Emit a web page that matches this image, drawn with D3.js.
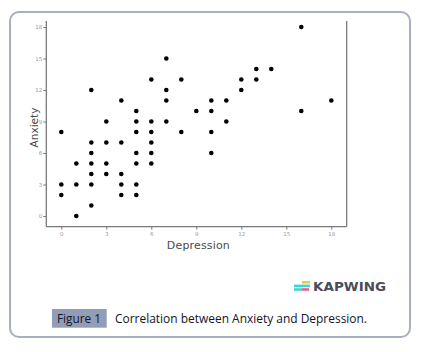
<!DOCTYPE html>
<html>
<head>
<meta charset="utf-8">
<script src="https://cdn.jsdelivr.net/npm/d3@7"></script>
<style>
  body { margin: 0; background: #fff; }
  svg { display: block; }
</style>
</head>
<body>
<div id="chart"></div>
<script>
// Chart Data
const depression = [0, 0, 0, 1, 1, 1, 2, 2, 2, 2, 2, 2, 2, 3, 3, 3, 3, 4, 4, 4, 4, 4,
  5, 5, 5, 5, 5, 5, 5, 6, 6, 6, 6, 6, 6, 7, 7, 7, 7, 8, 8, 9, 10, 10, 10, 10,
  11, 11, 12, 12, 13, 13, 14, 16, 16, 18];
const anxiety = [8, 3, 2, 5, 3, 0, 12, 7, 6, 5, 4, 3, 1, 9, 7, 5, 4, 11, 7, 4, 3, 2,
  10, 9, 8, 6, 5, 3, 2, 13, 9, 8, 7, 6, 5, 15, 12, 11, 9, 13, 8, 10, 11, 10, 8, 6,
  11, 9, 13, 12, 14, 13, 14, 18, 10, 11];
const xTicks = [0, 3, 6, 9, 12, 15, 18];
const yTicks = [0, 3, 6, 9, 12, 15, 18];
const captionLabel = "Figure 1";
const captionText = "Correlation between Anxiety and Depression.";

// Initialise Dimensions
let w = 423, h = 352;
let svg = d3.select("#chart").append("svg").attr("width", w).attr("height", h);

// Card Border
svg.append("rect").attr("x", 10).attr("y", 12).attr("width", 400).attr("height", 325)
  .attr("rx", 9).attr("fill", "#fff").attr("stroke", "#a9afbf").attr("stroke-width", 2);

// Setup Scales & Axes
let xScale = d3.scaleLinear().domain([0, 18]).range([61.3, 331.3]);
let yScale = d3.scaleLinear().domain([0, 18]).range([216, 27]);
let xAxis = d3.axisBottom(xScale).tickValues(xTicks).tickSize(3).tickPadding(2);
let yAxis = d3.axisLeft(yScale).tickValues(yTicks).tickSize(3).tickPadding(1);

let plotLeft = 46.3, plotRight = 346.7, plotTop = 21, plotBottom = 226.7;

// Draw Axes
let gx = svg.append("g").attr("transform", "translate(0," + plotBottom + ")").call(xAxis);
let gy = svg.append("g").attr("transform", "translate(" + plotLeft + ",0)").call(yAxis);
gx.select(".domain").attr("d", "M" + plotLeft + ",0H" + plotRight);
gy.select(".domain").attr("d", "M0," + plotTop + "V" + plotBottom);
[gx, gy].forEach((g) => {
  g.select(".domain").attr("stroke", "#7a7a7a").attr("stroke-width", 1.3);
  g.selectAll(".tick line").attr("stroke", "#7a7a7a");
  g.selectAll(".tick text").attr("fill", "#9a9a9a").attr("font-size", 5.5).attr("font-family", "DejaVu Sans");
});
// Right Frame Line
svg.append("line").attr("x1", plotRight).attr("x2", plotRight).attr("y1", plotTop).attr("y2", plotBottom)
  .attr("stroke", "#7a7a7a").attr("stroke-width", 1.3);

// Draw Points
svg.selectAll("circle.pt").data(depression).enter().append("circle").classed("pt", true)
  .attr("cx", (d) => xScale(d))
  .attr("cy", (d, i) => yScale(anxiety[i]))
  .attr("r", 2.3)
  .attr("fill", "#000");

// Label Axes
svg.append("text").text("Depression").attr("x", 198.3).attr("y", 249)
  .attr("text-anchor", "middle").attr("font-family", "DejaVu Sans").attr("font-size", 11)
  .attr("fill", "#4a4a4a").attr("textLength", 63);
svg.append("text").text("Anxiety").attr("transform", "translate(37.5,127.5) rotate(-90)")
  .attr("text-anchor", "middle").attr("font-family", "DejaVu Sans").attr("font-size", 10.5)
  .attr("fill", "#4a4a4a").attr("textLength", 40);

// Kapwing Logo
let logo = svg.append("g");
logo.append("rect").attr("x", 302).attr("y", 281).attr("width", 8).attr("height", 2.6).attr("fill", "#f5c83a");
logo.append("rect").attr("x", 294).attr("y", 284.6).attr("width", 16).attr("height", 2.6).attr("fill", "#3fd6d0");
logo.append("rect").attr("x", 294).attr("y", 288.2).attr("width", 8).attr("height", 2.6).attr("fill", "#3fd6d0");
logo.append("rect").attr("x", 302).attr("y", 288.2).attr("width", 7).attr("height", 2.6).attr("fill", "#ee5d8f");
logo.append("text").text("KAPWING").attr("x", 313).attr("y", 291).attr("font-family", "DejaVu Sans")
  .attr("font-weight", "bold").attr("font-size", 12.5).attr("fill", "#4b4c57").attr("textLength", 73)
  .attr("lengthAdjust", "spacingAndGlyphs");

// Caption
svg.append("rect").attr("x", 52).attr("y", 309).attr("width", 54.7).attr("height", 18.7).attr("fill", "#929db8");
svg.append("text").text(captionLabel).attr("x", 57).attr("y", 323).attr("font-family", "Open Sans")
  .attr("font-size", 12.5).attr("fill", "#141424").attr("textLength", 44).attr("lengthAdjust", "spacingAndGlyphs");
svg.append("text").text(captionText).attr("x", 115).attr("y", 323).attr("font-family", "Open Sans")
  .attr("font-size", 12.5).attr("fill", "#141424").attr("textLength", 252).attr("lengthAdjust", "spacingAndGlyphs");
</script>
</body>
</html>
